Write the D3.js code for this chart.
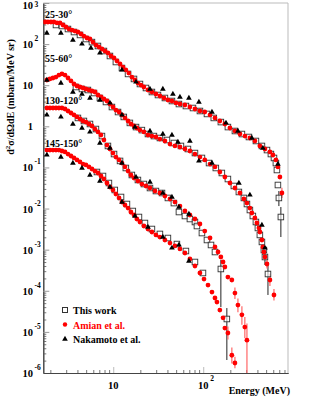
<!DOCTYPE html>
<html><head><meta charset="utf-8">
<script src="https://cdn.jsdelivr.net/npm/d3@7"></script>
<style>body{margin:0;background:#fff}</style>
</head><body>
<svg id="c" width="311" height="402"></svg>
<script>
// ---------- data ----------
const angleLabels = ["25-30°","55-60°","130-120°","145-150°"];
const legendLabels = ["This work","Amian et al.","Nakamoto et al."];
const xTickValues = [10, 100];
const yTickExponents = [3,2,1,0,-1,-2,-3,-4,-5,-6];

// [E (MeV), d2sigma, optional errLo, errHi]
const amian25 = [[1.74,345],[1.88,345],[2.03,345],[2.19,345],[2.37,327],[2.56,327],[2.76,292],[2.98,261],[3.22,233],[3.48,220],[3.75,208],[4.05,197],[4.38,176],[4.72,157],[5.10,141],[5.51,133],[5.95,112],[6.42,95],[6.93,85],[7.49,76],[8.09,68],[8.73,61],[9.42,51.4],[10.2,45.9],[11.0,38.8],[11.9,32.8],[12.8,27.7],[13.8,23.5],[14.9,19.8],[16.1,15.8],[17.4,13.4],[18.8,11.3],[20.3,10.1],[21.9,9.05],[24.3,7.65],[26.9,6.84],[29.8,6.11],[33.0,5.47],[36.6,4.89],[40.5,4.37],[44.9,4.13],[49.7,3.70],[55.1,3.49],[62.6,3.30],[71.1,2.95],[80.9,2.64],[91.9,2.36],[104,2.23],[119,1.89],[135,1.60],[153,1.35],[174,1.14],[198,0.91],[225,0.77],[256,0.65],[291,0.58],[330,0.52],[375,0.44],[426,0.333],[485,0.281],[551,0.238],[595,0.201],[642,0.152],[676,0.103],[711,0.0585],[749,0.0239,0.018,0.032]];
const thisWork25 = [[2.31,292],[2.69,276],[3.14,233],[3.66,197],[4.27,167],[4.97,133],[5.80,112],[6.76,90],[7.88,68],[9.19,51.4],[10.7,36.7],[12.5,26.2],[14.6,18.8],[17.0,14.2],[19.8,10.7],[23.1,8.56],[26.9,6.84],[31.4,5.78],[37.5,4.89],[44.9,4.13],[53.7,3.49],[64.2,3.12],[76.9,2.79],[91.9,2.36],[110,2.00],[131,1.60],[157,1.27],[188,0.96],[225,0.77],[269,0.65],[322,0.55],[385,0.44],[449,0.333],[511,0.265],[565,0.212],[611,0.170],[642,0.128],[659,0.0867],[676,0.0374],[693,0.0181,0.0115,0.0267],[729,0.00623,0.00203,0.0109]];
const nakamoto25 = [[1.83,186],[2.62,186],[3.56,126],[4.49,101],[5.65,80],[7.11,61],[12.5,23.5],[17.9,12.0],[25.6,8.09],[35.6,8.09],[46.0,6.11],[55.1,5.17],[69.3,4.89],[89.5,3.91],[125,2.23],[179,1.21],[243,0.77],[347,0.52],[460,0.297],[676,0.121]];

const amian55 = [[1.83,13.4],[1.98,14.2],[2.14,15.0],[2.31,15.8],[2.49,17.7],[2.69,18.8],[2.91,17.7],[3.14,15.0],[3.39,12.7],[3.66,10.7],[3.95,9.58],[4.27,9.05],[4.61,8.56],[4.97,8.09],[5.37,7.65],[5.80,7.23],[6.26,6.84],[6.76,5.78],[7.30,5.17],[7.88,4.62],[8.51,4.13],[9.19,3.49],[9.93,2.95],[10.7,2.49],[11.6,2.23],[12.5,1.89],[13.5,1.60],[14.6,1.35],[15.7,1.14],[17.0,1.02],[18.3,0.91],[19.8,0.81],[21.9,0.73],[24.3,0.615],[26.9,0.58],[29.8,0.55],[33.0,0.49],[37.5,0.44],[42.7,0.371],[48.5,0.333],[55.1,0.314],[62.6,0.281],[71.1,0.251],[80.9,0.212],[91.9,0.179],[104,0.152],[119,0.121],[135,0.103],[153,0.0775],[174,0.0585],[198,0.0418],[225,0.0316],[256,0.0239],[283,0.0171],[306,0.0136],[330,0.0103],[347,0.00779],[375,0.00589],[395,0.00445],[416,0.00337],[426,0.00269],[449,0.00172],[460,0.00116],[472,0.000877],[485,0.000663],[511,0.000448,0.00035,0.00058],[551,0.000183,0.00013,0.00026],[611,0.000079,0.000058,0.00011]];
const thisWork55 = [[3.85,9.05],[4.49,8.09],[5.23,7.65],[6.11,6.47],[7.11,4.89],[8.30,3.91],[9.67,2.95],[11.3,2.23],[13.1,1.69],[15.3,1.21],[17.9,0.96],[20.8,0.81],[24.3,0.65],[28.3,0.58],[33.0,0.52],[39.5,0.465],[47.2,0.393],[56.5,0.333],[67.6,0.281],[80.9,0.224],[96.7,0.170],[116,0.128],[138,0.097],[161,0.0733],[188,0.0523],[219,0.0354],[249,0.0253],[283,0.0181],[306,0.0129],[330,0.00922],[356,0.00659],[385,0.00471],[405,0.00337],[426,0.00228],[449,0.00154],[472,0.00098],[485,0.000663,0.000424,0.00098],[524,0.000256,0.000079,0.0005]];
const nakamoto55 = [[1.83,13.4],[2.62,11.3],[3.56,6.84],[4.49,6.11],[5.51,4.89],[7.11,4.37],[9.19,3.70],[12.5,1.89],[17.4,0.96],[25.6,0.77],[35.6,0.65],[44.9,0.615],[52.3,0.415],[71.1,0.44],[89.5,0.144],[125,0.128],[249,0.0418],[330,0.0214],[449,0.00398],[485,0.00110]];

const amian130 = [[1.83,2.79],[1.98,2.79],[2.14,2.79],[2.31,2.79],[2.49,2.79],[2.69,2.79],[2.91,2.64],[3.14,2.36],[3.39,2.11],[3.66,1.89],[3.95,1.69],[4.27,1.51],[4.61,1.35],[4.97,1.27],[5.37,1.14],[5.80,1.02],[6.26,0.86],[6.76,0.73],[7.30,0.615],[7.88,0.465],[8.51,0.351],[9.19,0.281],[9.93,0.224],[10.7,0.179],[11.6,0.152],[12.5,0.128],[13.5,0.103],[14.6,0.082],[15.7,0.0655],[17.0,0.0553],[18.8,0.0468],[20.8,0.0395],[23.1,0.0354],[25.6,0.0316],[29.1,0.0267],[33.0,0.0239],[37.5,0.0202],[42.7,0.0171],[48.5,0.0144],[55.1,0.0115],[62.6,0.00871],[71.1,0.00697],[80.9,0.00557],[91.9,0.00421],[104,0.00284],[119,0.00192],[135,0.00116],[146,0.000877],[157,0.000663],[166,0.000501],[174,0.000379],[188,0.000216],[208,0.000183],[225,8.8e-5,6.3e-5,1.2e-4],[243,4.5e-5,3.0e-5,6.5e-5],[269,2.6e-5,1.5e-5,4.2e-5],[290,1.31e-5,7e-6,2.3e-5],[306,6.3e-6,1e-6,1.6e-5]];
const thisWork130 = [[4.05,1.60],[4.72,1.35],[5.51,1.14],[6.42,0.86],[7.49,0.58],[8.73,0.333],[10.2,0.212],[11.9,0.144],[13.8,0.097],[16.1,0.0655],[18.8,0.0495],[21.9,0.0395],[25.6,0.0316],[29.8,0.0267],[34.8,0.0239],[40.5,0.0181],[47.2,0.0136],[53.7,0.00824],[62.6,0.00659],[71.1,0.00557],[80.9,0.00471],[85.1,0.00376],[96.7,0.00254],[110,0.00172],[122,0.0013],[135,0.000877],[157,0.000339,0.00004,0.000561]];
const nakamoto130 = [[1.83,1.89],[2.62,1.69],[3.56,1.14],[4.49,0.91],[5.51,0.73],[7.11,0.393],[9.19,0.297],[12.5,0.128],[17.9,0.0585],[25.6,0.0442],[35.6,0.0239],[44.9,0.0191],[53.7,0.0109],[69.3,0.00736]];

const amian145 = [[1.83,0.265],[1.98,0.265],[2.14,0.265],[2.31,0.265],[2.49,0.265],[2.69,0.251],[2.91,0.238],[3.14,0.212],[3.39,0.190],[3.66,0.170],[3.95,0.152],[4.27,0.136],[4.61,0.121],[4.97,0.115],[5.37,0.103],[5.80,0.0917],[6.26,0.0818],[6.76,0.0733],[7.30,0.0619],[7.88,0.0523],[8.51,0.0418],[9.19,0.0334],[9.93,0.0283],[10.7,0.0226],[11.6,0.0181],[12.5,0.0144],[13.5,0.0122],[14.6,0.0103],[15.7,0.00824],[17.0,0.00697],[18.3,0.00557],[19.8,0.00471],[21.9,0.00376],[24.3,0.00318],[26.9,0.00269],[29.8,0.00228],[33.0,0.00203],[37.5,0.00172],[42.7,0.00145],[48.5,0.00123],[55.1,0.00104],[62.6,0.00083],[71.1,0.000593],[80.9,0.000401],[91.9,0.000271],[102,0.000193],[113,0.000138],[125,9.3e-5],[135,6.67e-5],[142,5.3e-5],[153,3.4e-5],[166,2.2e-5],[174,1.24e-5],[188,9.4e-6,6.5e-6,1.35e-5],[208,2.7e-6,1.7e-6,4.2e-6],[225,1.75e-6,1.3e-6,2.5e-6]];
const thisWork145 = [[6.59,0.0775],[7.69,0.0619],[8.95,0.0418],[10.4,0.0283],[12.2,0.0191],[14.2,0.0129],[16.5,0.00871],[19.3,0.00623],[22.5,0.00445],[26.9,0.00318],[33.0,0.00241],[40.5,0.00192],[51.0,0.00137],[64.2,0.000927],[80.9,0.000501],[99.3,0.000271],[183,2.06e-5,2.07e-6,3.8e-5]];
const nakamoto145 = [[1.83,0.201],[2.62,0.179],[3.56,0.128],[4.49,0.097],[5.51,0.0655],[7.11,0.0468],[9.19,0.0334],[12.5,0.0144],[17.4,0.00659],[24.3,0.00356],[35.6,0.00203],[44.9,0.0011],[53.7,0.0013],[69.3,0.00053]];

// ---------- drawing ----------
const W = 311, H = 402;
const x = d3.scaleLog().domain([1.67, 875]).range([43.3, 288]);
const y = d3.scaleLog().domain([1e-6, 1e3]).range([373, 3]);
const serif = "'Liberation Serif','Times New Roman',serif";
const RED = "#ff0000";

const svg = d3.select("#c");
svg.append("rect").attr("width", W).attr("height", H).attr("fill", "#fff");

const [x0, x1] = x.range();
const [yb, yt] = y.range();

// frame (top & right light gray)
svg.append("line").attr("x1", x0).attr("x2", x1).attr("y1", yt).attr("y2", yt).attr("stroke", "#bbb");
svg.append("line").attr("x1", x1).attr("x2", x1).attr("y1", yt).attr("y2", yb).attr("stroke", "#bbb");

// ticks
const majorY = yTickExponents.map(e => Math.pow(10, e));
const minorY = [];
for (let e = -6; e < 3; e++) for (let m = 2; m <= 9; m++) minorY.push(m * Math.pow(10, e));
const minorX = [];
for (let e = 0; e < 3; e++) for (let m = 1; m <= 9; m++) { const v = m * Math.pow(10, e); if (v > 1.67 && v < 875 && v !== 10 && v !== 100) minorX.push(v); }

function styleAxis(g, col) {
  g.selectAll("text").remove();
  g.selectAll(".tick line").attr("stroke", col);
  g.select(".domain").attr("stroke", "#444");
}
svg.append("g").attr("transform", `translate(${x0},0)`)
  .call(d3.axisLeft(y).tickValues(minorY).tickSize(-3).tickSizeOuter(0).tickFormat(""))
  .call(g => styleAxis(g, "#777"));
svg.append("g").attr("transform", `translate(${x0},0)`)
  .call(d3.axisLeft(y).tickValues(majorY).tickSize(-6).tickSizeOuter(0).tickFormat(""))
  .call(g => styleAxis(g, "#999"));
svg.append("g").attr("transform", `translate(0,${yb})`)
  .call(d3.axisBottom(x).tickValues(minorX).tickSize(-3).tickSizeOuter(0).tickFormat(""))
  .call(g => styleAxis(g, "#777"));
svg.append("g").attr("transform", `translate(0,${yb})`)
  .call(d3.axisBottom(x).tickValues(xTickValues).tickSize(-6).tickSizeOuter(0).tickFormat(""))
  .call(g => styleAxis(g, "#bbb"));

// y tick labels (top one nudged down so it stays inside the picture)
const lab = svg.append("g").attr("font-family", serif).attr("font-weight", "bold").attr("fill", "#000");
yTickExponents.forEach(e => {
  const yy = Math.max(y(Math.pow(10, e)), 5);
  const base = e === 0 ? "1" : "10";
  lab.append("text").attr("x", 33).attr("y", yy + 4).attr("text-anchor", "end").attr("font-size", 10.5).text(base);
  if (e !== 0 && e !== 1) {
    lab.append("text").attr("x", 34.5).attr("y", Math.max(yy - 3, 7)).attr("font-size", 7.5).text(String(e));
  }
});
// x tick labels
xTickValues.forEach(v => {
  const e = Math.round(Math.log10(v));
  const xx = x(v);
  lab.append("text").attr("x", xx).attr("y", 389).attr("text-anchor", "middle").attr("font-size", 10.5).text("10");
  if (e !== 1) lab.append("text").attr("x", xx + 7).attr("y", 381).attr("font-size", 7.5).text(String(e));
});

// axis titles
lab.append("text").attr("x", 290).attr("y", 394).attr("text-anchor", "end").attr("font-size", 10).text("Energy (MeV)");
const yt1 = lab.append("text").attr("transform", "translate(14,97) rotate(-90)").attr("text-anchor", "middle").attr("font-size", 10);
yt1.append("tspan").text("d");
yt1.append("tspan").attr("dy", -4).attr("font-size", 7).text("2");
yt1.append("tspan").attr("dy", 4).text("σ/dΩdE (mbarn/MeV sr)");

// clip
svg.append("clipPath").attr("id", "clip").append("rect").attr("x", x0).attr("y", yt).attr("width", x1 - x0).attr("height", yb - yt);
const plot = svg.append("g").attr("clip-path", "url(#clip)");

const groups = [
  { label: angleLabels[0], tw: thisWork25, am: amian25, nk: nakamoto25, off: 4 },
  { label: angleLabels[1], tw: thisWork55, am: amian55, nk: nakamoto55, off: 12 },
  { label: angleLabels[2], tw: thisWork130, am: amian130, nk: nakamoto130, off: 4 },
  { label: angleLabels[3], tw: thisWork145, am: amian145, nk: nakamoto145, off: 3 }
];

const tri = d3.symbol().type(d3.symbolTriangle).size(14);

// error bars
groups.forEach(g => {
  plot.selectAll(null).data(g.tw.filter(d => d.length > 2)).join("line")
    .attr("x1", d => x(d[0])).attr("x2", d => x(d[0]))
    .attr("y1", d => y(d[2])).attr("y2", d => y(d[3]))
    .attr("stroke", "#222").attr("stroke-width", 1);
  plot.selectAll(null).data(g.am.filter(d => d.length > 2)).join("line")
    .attr("x1", d => x(d[0])).attr("x2", d => x(d[0]))
    .attr("y1", d => y(d[2])).attr("y2", d => y(d[3]))
    .attr("stroke", "#ff6666").attr("stroke-width", 1.2);
});
// this work squares
groups.forEach(g => {
  plot.selectAll(null).data(g.tw).join("rect")
    .attr("x", d => x(d[0]) - 2.8).attr("y", d => y(d[1]) - 2.8)
    .attr("width", 5.6).attr("height", 5.6)
    .attr("fill", "#fff").attr("fill-opacity", 0.6).attr("stroke", "#333").attr("stroke-width", 0.9);
});
// Amian
groups.forEach(g => {
  plot.selectAll(null).data(g.am).join("circle")
    .attr("cx", d => x(d[0])).attr("cy", d => y(d[1])).attr("r", 2.4).attr("fill", RED);
});
// Nakamoto
groups.forEach(g => {
  plot.selectAll(null).data(g.nk).join("path")
    .attr("d", tri).attr("transform", d => `translate(${x(d[0])},${y(d[1])})`).attr("fill", "#000");
});

// angle labels
groups.forEach(g => {
  const top = d3.min(g.am.filter(d => d[0] < 3), d => y(d[1]));
  lab.append("text").attr("x", 45).attr("y", top - g.off).attr("font-size", 10).text(g.label);
});

// legend
const lg = svg.append("g").attr("font-family", serif).attr("font-weight", "bold").attr("font-size", 10);
const ly = [310, 324.5, 339];
lg.append("rect").attr("x", 62.5).attr("y", ly[0] - 2.5).attr("width", 5).attr("height", 5).attr("fill", "none").attr("stroke", "#333");
lg.append("circle").attr("cx", 65).attr("cy", ly[1]).attr("r", 2.2).attr("fill", RED);
lg.append("path").attr("d", tri).attr("transform", `translate(65,${ly[2]})`).attr("fill", "#000");
legendLabels.forEach((t, i) => {
  lg.append("text").attr("x", 73).attr("y", ly[i] + 4).attr("fill", i === 1 ? RED : "#000").text(t);
});
</script>
</body></html>
